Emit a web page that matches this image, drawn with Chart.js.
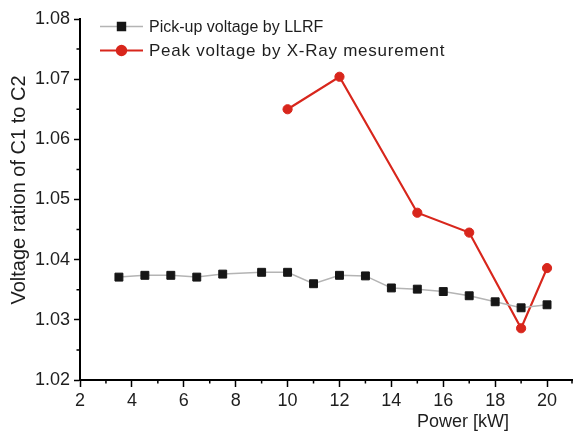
<!DOCTYPE html>
<html>
<head>
<meta charset="utf-8">
<script src="https://cdn.jsdelivr.net/npm/chart.js@4/dist/chart.umd.min.js"></script>
<style>
  html, body { margin: 0; padding: 0; background: #fff; }
  #wrap { width: 573px; height: 432px; position: relative; }
</style>
</head>
<body>
<div id="wrap"><canvas id="c"></canvas></div>
<script>
// ---- data ----
const llrfPower = [3.5, 4.5, 5.5, 6.5, 7.5, 9, 10, 11, 12, 13, 14, 15, 16, 17, 18, 19, 20];
const llrfRatio = [1.0371, 1.0374, 1.0374, 1.0371, 1.0376, 1.0379, 1.0379, 1.0360, 1.0374, 1.0373, 1.0353, 1.0351, 1.0347, 1.0340, 1.0330, 1.0320, 1.0325];
const xrayPower = [10, 12, 15, 17, 19, 20];
const xrayRatio = [1.0650, 1.0704, 1.0478, 1.0445, 1.0286, 1.0386];
const seriesNames = ['Pick-up voltage by LLRF', 'Peak voltage by X-Ray mesurement'];
const xTitle = 'Power [kW]';
const yTitle = 'Voltage ration of C1 to C2';
const xMajorTicks = [2, 4, 6, 8, 10, 12, 14, 16, 18, 20];
const xMinorTicks = [3, 5, 7, 9, 11, 13, 15, 17, 19, 21];
const yMajorTicks = [1.02, 1.03, 1.04, 1.05, 1.06, 1.07, 1.08];
const yMinorTicks = [1.025, 1.035, 1.045, 1.055, 1.065, 1.075];

const FONT = "'Liberation Sans', Arial, Helvetica, sans-serif";
const TXT = '#1e1e1e';
const legendFonts = [{ size: 16, spacing: 0 }, { size: 17, spacing: 0.75 }];

const toXY = (xs, ys) => xs.map((x, i) => ({ x: x, y: ys[i] }));

// minor ticks, axis titles and legend drawn with scale helpers
const extras = {
  id: 'extras',
  afterDraw(chart) {
    const ctx = chart.ctx;
    const xs = chart.scales.x, ys = chart.scales.y;
    const ca = chart.chartArea;
    ctx.save();
    ctx.strokeStyle = '#000';
    ctx.lineWidth = 1.5;
    ctx.beginPath();
    xMinorTicks.forEach(v => {
      if (v > xs.max) return;
      const px = Math.min(xs.getPixelForValue(v), chart.width - 1);
      ctx.moveTo(px, ca.bottom); ctx.lineTo(px, ca.bottom + 3.5);
    });
    yMinorTicks.forEach(v => {
      const py = ys.getPixelForValue(v);
      ctx.moveTo(ca.left, py); ctx.lineTo(ca.left - 3.5, py);
    });
    ctx.stroke();

    // axis titles
    ctx.fillStyle = TXT;
    ctx.textAlign = 'center';
    ctx.textBaseline = 'middle';
    ctx.font = '18px ' + FONT;
    ctx.fillText(xTitle, ca.left + 383, ca.bottom + 42);
    ctx.save();
    ctx.font = '20px ' + FONT;
    ctx.translate(19, ca.top + 171);
    ctx.rotate(-Math.PI / 2);
    ctx.fillText(yTitle, 0, 0);
    ctx.restore();

    // legend
    ctx.textAlign = 'left';
    chart.data.datasets.forEach((ds, i) => {
      const y = ca.top + 7.5 + i * 24;
      const x0 = ca.left + 20;
      ctx.strokeStyle = ds.borderColor;
      ctx.lineWidth = ds.borderWidth;
      ctx.beginPath();
      ctx.moveTo(x0, y); ctx.lineTo(x0 + 43, y);
      ctx.stroke();
      ctx.fillStyle = ds.pointBackgroundColor;
      ctx.strokeStyle = ds.pointBorderColor;
      Chart.helpers.drawPoint(ctx, { pointStyle: ds.pointStyle, radius: ds.pointRadius, borderWidth: 1, rotation: 0 }, x0 + 21.5, y);
      ctx.fillStyle = TXT;
      ctx.font = legendFonts[i].size + 'px ' + FONT;
      ctx.letterSpacing = legendFonts[i].spacing + 'px';
      ctx.fillText(ds.label, x0 + 49, y + 1);
      ctx.letterSpacing = '0px';
    });
    ctx.restore();
  }
};

new Chart(document.getElementById('c'), {
  type: 'line',
  data: {
    datasets: [
      {
        label: seriesNames[0],
        data: toXY(llrfPower, llrfRatio),
        borderColor: '#b4b4b4',
        borderWidth: 1.5,
        pointStyle: 'rect',
        pointRadius: 5.6,
        pointBackgroundColor: '#161616',
        pointBorderColor: '#161616',
        pointBorderWidth: 1,
        tension: 0
      },
      {
        label: seriesNames[1],
        data: toXY(xrayPower, xrayRatio),
        borderColor: '#d8261c',
        borderWidth: 2.2,
        pointStyle: 'circle',
        pointRadius: 4.6,
        pointBackgroundColor: '#d8261c',
        pointBorderColor: '#d8261c',
        pointBorderWidth: 1,
        tension: 0
      }
    ]
  },
  options: {
    responsive: true,
    maintainAspectRatio: false,
    animation: false,
    events: [],
    layout: { autoPadding: false, padding: { top: 19, right: 0, left: 0, bottom: 0 } },
    plugins: { legend: { display: false }, tooltip: { enabled: false } },
    scales: {
      x: {
        type: 'linear',
        min: 2, max: 21,
        afterBuildTicks: s => { s.ticks = xMajorTicks.map(v => ({ value: v })); },
        afterFit: s => { s.height = 52; s.paddingLeft = 0; s.paddingRight = 0; },
        border: { display: true, color: '#000', width: 2 },
        grid: { drawOnChartArea: false, drawTicks: true, tickLength: 7, tickColor: '#000', tickWidth: 1.5 },
        ticks: { color: TXT, font: { family: FONT, size: 18 }, padding: 3, maxRotation: 0, autoSkip: false, callback: v => String(v) }
      },
      y: {
        type: 'linear',
        min: 1.02, max: 1.08,
        afterBuildTicks: s => { s.ticks = yMajorTicks.map(v => ({ value: v })); },
        afterFit: s => { s.width = 80; },
        border: { display: true, color: '#000', width: 2 },
        grid: { drawOnChartArea: false, drawTicks: true, tickLength: 6, tickColor: '#000', tickWidth: 1.5 },
        ticks: { color: TXT, font: { family: FONT, size: 18 }, padding: 4, autoSkip: false, callback: v => v.toFixed(2) }
      }
    }
  },
  plugins: [extras]
});
</script>
</body>
</html>
